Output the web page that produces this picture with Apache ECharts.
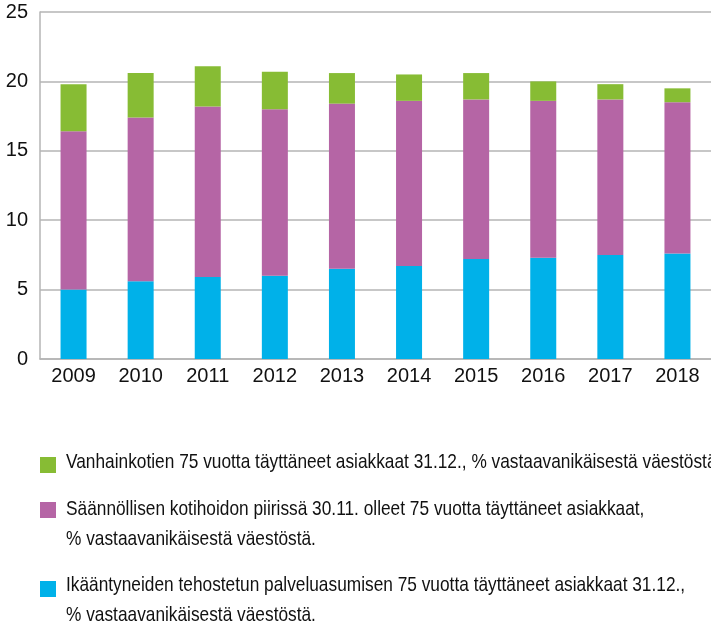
<!DOCTYPE html>
<html>
<head>
<meta charset="utf-8">
<script src="https://cdn.jsdelivr.net/npm/echarts@6/dist/echarts.min.js"></script>
<style>html,body{margin:0;padding:0;background:#fff}#c{width:711px;height:627px}</style>
</head>
<body>
<div id="c"></div>
<script>
var years = ['2009','2010','2011','2012','2013','2014','2015','2016','2017','2018'];
var tehostettu = [5.0,5.6,5.9,6.0,6.5,6.7,7.2,7.3,7.5,7.6];
var kotihoito = [11.4,11.8,12.3,12.0,11.9,11.9,11.5,11.3,11.2,10.9];
var vanhainkoti = [3.4,3.2,2.9,2.7,2.2,1.9,1.9,1.4,1.1,1.0];
var yTicks = [0,5,10,15,20,25];
var legendGreen = ['Vanhainkotien 75 vuotta täyttäneet asiakkaat 31.12., % vastaavanikäisestä väestöstä'];
var legendPurple = ['Säännöllisen kotihoidon piirissä 30.11. olleet 75 vuotta täyttäneet asiakkaat,', '% vastaavanikäisestä väestöstä.'];
var legendBlue = ['Ikääntyneiden tehostetun palveluasumisen 75 vuotta täyttäneet asiakkaat 31.12.,', '% vastaavanikäisestä väestöstä.'];

var COLORS = {green: '#87bc34', purple: '#b565a5', blue: '#00b1e9'};
var FONT = '"Liberation Sans", Arimo, sans-serif';
var LEG_SIZE = 21;

// horizontally condense legend text to match the reference's narrow face
var mc = document.createElement('canvas').getContext('2d');
mc.font = LEG_SIZE + 'px ' + FONT;
var wSum = mc.measureText(legendGreen[0]).width + mc.measureText(legendPurple[0]).width +
           mc.measureText(legendBlue[0]).width + mc.measureText(legendBlue[1]).width;
var sx = (646 + 582 + 623 + 247) / wSum;

function legendItem(lines, color, squareTop, firstMid){
  var els = [{type: 'rect', shape: {x: 40, y: squareTop, width: 16, height: 16}, style: {fill: color}}];
  lines.forEach(function(t, i){
    els.push({type: 'text', x: 66, y: firstMid + i * 30, scaleX: sx, scaleY: 1,
      style: {text: t, fill: '#111', font: LEG_SIZE + 'px ' + FONT, align: 'left', verticalAlign: 'middle'}});
  });
  return els;
}

var chart = echarts.init(document.getElementById('c'), null, {renderer: 'canvas'});
chart.setOption({
  animation: false,
  textStyle: {fontFamily: FONT},
  grid: {left: 40, top: 12, width: 681, height: 347, containLabel: false},
  xAxis: {
    type: 'category', data: years,
    axisLine: {show: true, lineStyle: {color: '#b4b4b4', width: 1.5}},
    axisTick: {show: false},
    axisLabel: {color: '#111', fontSize: 20, fontFamily: FONT, margin: 7}
  },
  yAxis: {
    type: 'value', min: 0, max: 25, interval: 5,
    axisLine: {show: true, lineStyle: {color: '#b4b4b4', width: 1.5}},
    axisTick: {show: false},
    splitLine: {lineStyle: {color: '#b4b4b4', width: 1.5}},
    axisLabel: {color: '#111', fontSize: 20, fontFamily: FONT, margin: 12,
      formatter: function(v){ return yTicks.indexOf(v) >= 0 ? String(v) : ''; }}
  },
  graphic: [].concat(
    legendItem(legendGreen, COLORS.green, 457, 462.7),
    legendItem(legendPurple, COLORS.purple, 502, 509.7),
    legendItem(legendBlue, COLORS.blue, 581, 585.7)
  ),
  series: [
    {name: legendBlue.join(' '), type: 'bar', stack: 'a', data: tehostettu, barWidth: 26, itemStyle: {color: COLORS.blue}},
    {name: legendPurple.join(' '), type: 'bar', stack: 'a', data: kotihoito, barWidth: 26, itemStyle: {color: COLORS.purple}},
    {name: legendGreen.join(' '), type: 'bar', stack: 'a', data: vanhainkoti, barWidth: 26, itemStyle: {color: COLORS.green}}
  ]
});
</script>
</body>
</html>
